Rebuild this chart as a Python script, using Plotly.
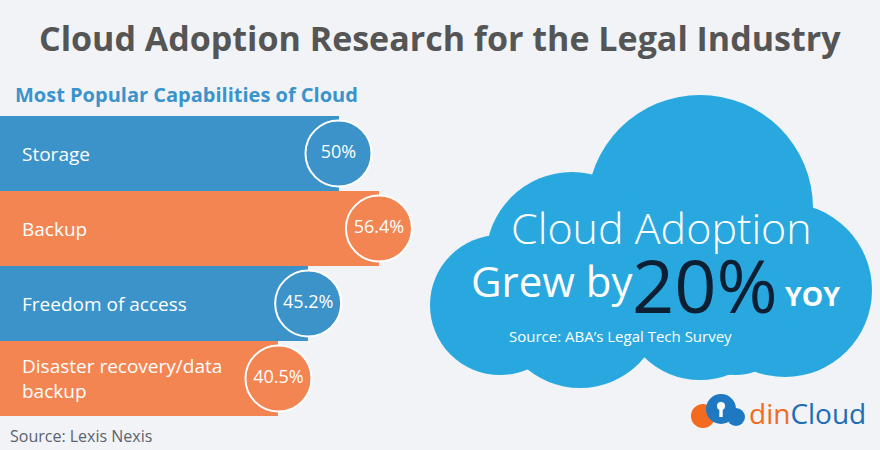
import plotly.graph_objects as go

W, H = 880, 450

categories = ["Storage", "Backup", "Freedom of access", "Disaster recovery/data<br>backup"]
values = [50, 56.4, 45.2, 40.5]
value_labels = ["50%", "56.4%", "45.2%", "40.5%"]
bar_colors = ["#3B93C9", "#F28552", "#3B93C9", "#F28552"]

title_text = "Cloud Adoption Research for the Legal Industry"
subtitle_text = "Most Popular Capabilities of Cloud"
source_left = "Source: Lexis Nexis"
cloud_line1 = "Cloud Adoption"
cloud_grew = "Grew by"
cloud_pct = "20%"
cloud_yoy = "YOY"
cloud_source = "Source: ABA’s Legal Tech Survey"

# axis scale (value -> pixel): px = 22.5 + 6.32 * v
X0 = -22.5 / 6.32
X1 = (W - 22.5) / 6.32
idx = list(range(len(categories)))
Y_TOP = -153.5 / 75
Y_BOT = (H - 153.5) / 75

fig = go.Figure()
fig.add_trace(go.Bar(
    y=idx, x=[v - X0 for v in values], base=X0, orientation="h",
    marker=dict(color=bar_colors, line=dict(width=0)), width=1.0,
    hoverinfo="skip", showlegend=False,
))
fig.add_trace(go.Scatter(
    y=idx, x=values, mode="markers+text", text=value_labels,
    textposition="middle center",
    textfont=dict(family="Open Sans", size=18, color="white"),
    marker=dict(size=66, color=bar_colors, line=dict(color="white", width=2)),
    hoverinfo="skip", showlegend=False, cliponaxis=False,
))

def px(x):
    return x / W

def py(y):
    return 1 - y / H

shapes = []
def circ(cx, cy, r, color):
    shapes.append(dict(type="circle", xref="paper", yref="paper",
                       x0=px(cx - r), x1=px(cx + r), y0=py(cy + r), y1=py(cy - r),
                       fillcolor=color, line=dict(width=0), layer="below"))

cloud = "#29A8E0"
circ(700, 208, 113, cloud)
circ(500, 305, 70, cloud)
circ(572, 258, 86, cloud)
circ(785, 290, 87, cloud)
circ(580, 305, 83, cloud)
circ(700, 300, 80, cloud)
circ(735, 315, 60, cloud)

# logo icon
circ(703, 416, 12, "#F26B21")
circ(721, 409, 15, "#1E78C2")
circ(736, 417, 9, "#1E78C2")
circ(721, 406, 4, "white")
shapes.append(dict(type="rect", xref="paper", yref="paper",
                   x0=px(719.3), x1=px(722.7), y0=py(417), y1=py(407),
                   fillcolor="white", line=dict(width=0), layer="below"))

annotations = []
def ann(x, y, text, size, color, family="Open Sans", weight=None, xanchor="left", yanchor="middle"):
    f = dict(family=family, size=size, color=color)
    if weight is not None:
        f["weight"] = weight
    annotations.append(dict(x=px(x), y=py(y), xref="paper", yref="paper", text=text,
                            showarrow=False, xanchor=xanchor, yanchor=yanchor, font=f,
                            borderpad=0))

ann(440, 38, f"<b>{title_text}</b>", 34, "#555555", xanchor="center")
ann(14, 94, f"<b>{subtitle_text}</b>", 20, "#3A93CC")
for i, c in enumerate(categories):
    annotations.append(dict(x=px(20), y=i, xref="paper", yref="y", text=c, showarrow=False,
                            xanchor="left", yanchor="middle", align="left",
                            font=dict(family="Open Sans", size=19, color="white")))
ann(9, 436, source_left, 16, "#5A636E")

ann(661, 227, cloud_line1, 43, "white", weight=300, xanchor="center")
ann(634, 280, cloud_grew, 42, "white", xanchor="right")
ann(631, 284, cloud_pct, 74, "#0D1F33", weight=400)
ann(784, 295, f"<b>{cloud_yoy}</b>", 27, "white")
ann(508, 336, cloud_source, 15, "white")

ann(748, 413, "<span style='color:#F26B21'>din</span><span style='color:#1E6DB5'>Cloud</span>", 28, "#1E6DB5")

fig.update_layout(
    width=W, height=H, margin=dict(l=0, r=0, t=0, b=0),
    paper_bgcolor="#F1F3F6", plot_bgcolor="rgba(0,0,0,0)",
    bargap=0,
    xaxis=dict(range=[X0, X1], visible=False, domain=[0, 1], fixedrange=True),
    yaxis=dict(range=[Y_BOT, Y_TOP], visible=False, domain=[0, 1], fixedrange=True),
    shapes=shapes, annotations=annotations,
)

fig.write_html("out.html", config={"displayModeBar": False},
               post_script="document.body.style.margin='0';document.body.style.overflow='hidden';")
